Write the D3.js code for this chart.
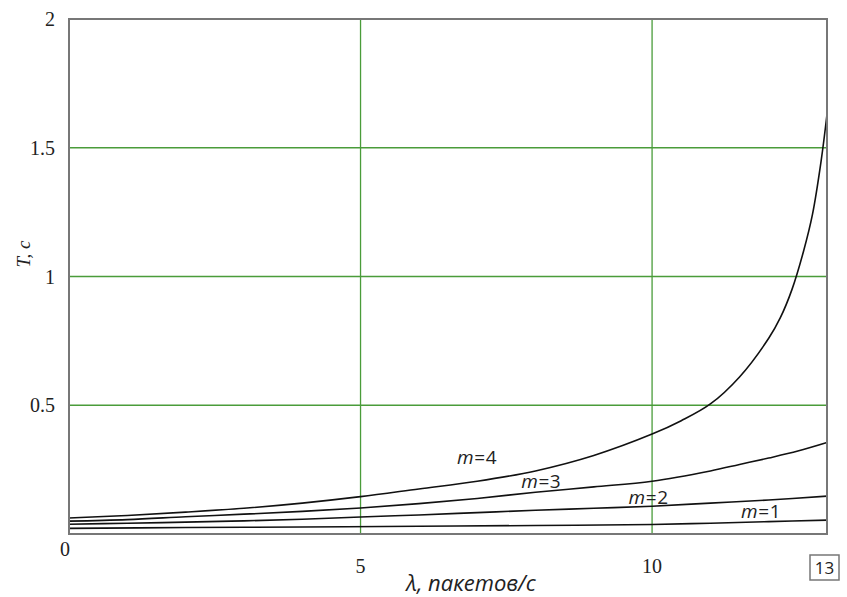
<!DOCTYPE html>
<html><head><meta charset="utf-8">
<script src="https://cdn.jsdelivr.net/npm/d3@7"></script>
<style>html,body{margin:0;padding:0;background:#fff;}</style>
</head><body>
<svg id="c" width="847" height="597"></svg>
<script>
const xTicks = [5, 10];
const yTicks = [0.5, 1, 1.5, 2];
const yTickLabels = ["0.5", "1", "1.5", "2"];
const xM4 = [0,1,2,3,4,5,6,7,8,9,10,10.5,11,11.5,12,12.2,12.4,12.6,12.75,12.9,13];
const tM4 = [0.062,0.072,0.085,0.1,0.12,0.145,0.175,0.205,0.245,0.305,0.388,0.44,0.505,0.61,0.76,0.84,0.95,1.1,1.24,1.45,1.63];
const xM3 = [0,1,2,3,4,5,6,7,8,9,10,11,11.5,12,12.5,13];
const tM3 = [0.05,0.056,0.067,0.077,0.088,0.101,0.118,0.138,0.162,0.183,0.205,0.245,0.27,0.295,0.322,0.355];
const xM2 = [0,1,2,3,4,5,6,7,8,9,10,11,12,13];
const tM2 = [0.038,0.042,0.046,0.051,0.057,0.066,0.074,0.083,0.092,0.1,0.108,0.12,0.132,0.147];
const xM1 = [0,2,4,6,8,10,11,12,13];
const tM1 = [0.022,0.025,0.027,0.03,0.033,0.037,0.042,0.048,0.054];
const seriesNames = ["m=4","m=3","m=2","m=1"];

const svg = d3.select("#c");
const L = 69, R = 827, T = 19, B = 534;
const x = d3.scaleLinear().domain([0, 13]).range([L, R]);
const y = d3.scaleLinear().domain([0, 2]).range([B, T]);
const grid = "#4a9c3a";

// grid
svg.append("g").selectAll("line").data(xTicks).join("line")
  .attr("x1", d => x(d)).attr("x2", d => x(d)).attr("y1", T).attr("y2", B)
  .attr("stroke", grid).attr("stroke-width", 1.3);
svg.append("g").selectAll("line").data(yTicks.filter(d => d < 2)).join("line")
  .attr("x1", L).attr("x2", R).attr("y1", d => y(d)).attr("y2", d => y(d))
  .attr("stroke", grid).attr("stroke-width", 1.3);

// curves
const line = d3.line().x(d => x(d[0])).y(d => y(d[1])).curve(d3.curveCatmullRom.alpha(0.5));
const series = [[xM4,tM4],[xM3,tM3],[xM2,tM2],[xM1,tM1]];
series.forEach(([xs, ts]) => {
  svg.append("path").datum(xs.map((v,i) => [v, ts[i]]))
    .attr("d", line).attr("fill", "none").attr("stroke", "#111").attr("stroke-width", 1.6);
});

// frame
svg.append("rect").attr("x", L).attr("y", T).attr("width", R - L).attr("height", B - T)
  .attr("fill", "none").attr("stroke", "#777").attr("stroke-width", 2);

// y tick labels
svg.append("g").selectAll("text").data(yTicks).join("text")
  .attr("x", 55).attr("y", d => y(d)).attr("dy", "0.35em")
  .attr("text-anchor", "end").attr("font-family", "Liberation Serif").attr("font-size", 20)
  .attr("fill", "#222").text((d,i) => yTickLabels[i]);
// x tick labels
svg.append("text").attr("x", 65).attr("y", 549).attr("dy", "0.35em").attr("text-anchor", "middle")
  .attr("font-family", "Liberation Serif").attr("font-size", 20).attr("fill", "#222").text("0");
svg.append("g").selectAll("text").data(xTicks).join("text")
  .attr("x", d => x(d)).attr("y", 566).attr("dy", "0.35em").attr("text-anchor", "middle")
  .attr("font-family", "Liberation Serif").attr("font-size", 20).attr("fill", "#222").text(d => d);

// 13 boxed
svg.append("rect").attr("x", 810).attr("y", 555).attr("width", 29).attr("height", 25)
  .attr("fill", "none").attr("stroke", "#777").attr("stroke-width", 1.5);
svg.append("text").attr("x", 824.5).attr("y", 568).attr("dy", "0.35em").attr("text-anchor", "middle")
  .attr("font-family", "Open Sans").attr("font-size", 17).attr("fill", "#222").text("13");

// axis titles
svg.append("text").attr("x", 471).attr("y", 583).attr("dy", "0.35em").attr("text-anchor", "middle")
  .attr("font-family", "Open Sans").attr("font-style", "italic").attr("font-size", 22).attr("fill", "#222")
  .text("λ, пакетов/с");
svg.append("text").attr("transform", "translate(23,254) rotate(-90)").attr("dy", "0.35em")
  .attr("text-anchor", "middle").attr("font-family", "Liberation Serif").attr("font-style", "italic")
  .attr("font-size", 19).attr("fill", "#222").text("T, c");

// series labels
const labelPos = [[7.0, 0.297], [8.1, 0.205], [9.94, 0.142], [11.87, 0.087]];
svg.append("g").selectAll("text").data(seriesNames).join("text")
  .attr("x", (d,i) => x(labelPos[i][0])).attr("y", (d,i) => y(labelPos[i][1])).attr("dy", "0.35em")
  .attr("text-anchor", "middle").attr("font-family", "Open Sans").attr("font-size", 19)
  .attr("letter-spacing", 0.6).attr("fill", "#222")
  .each(function(d) {
    const t = d3.select(this);
    t.append("tspan").attr("font-style", "italic").text("m");
    t.append("tspan").text(d.slice(1));
  });
</script>
</body></html>
